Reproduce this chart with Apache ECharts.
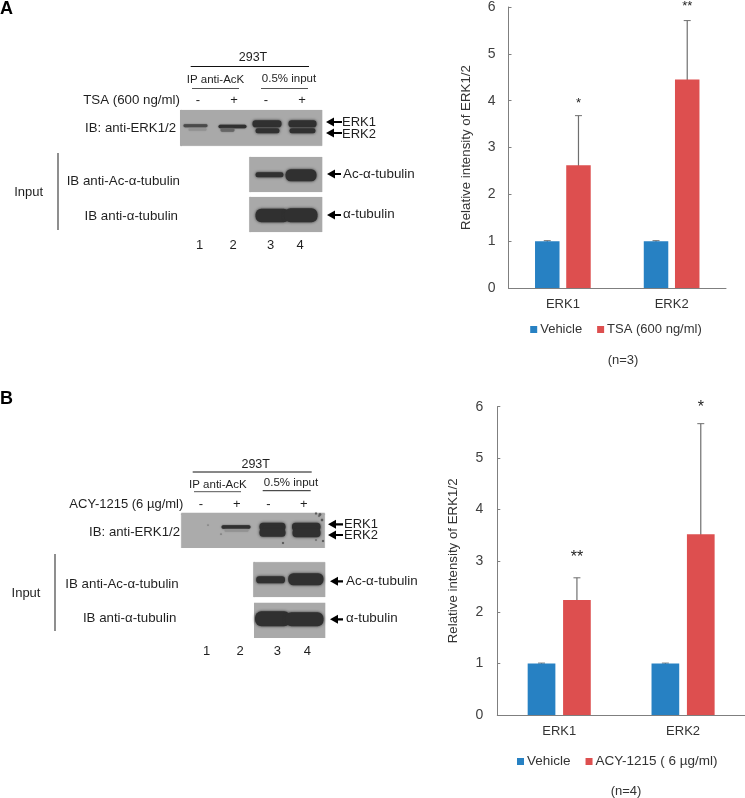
<!DOCTYPE html>
<html><head><meta charset="utf-8">
<style>html,body{margin:0;padding:0;background:#fff}#c{width:745px;height:798px}</style>
<script src="https://cdn.jsdelivr.net/npm/echarts@6/dist/echarts.min.js"></script>
</head><body><div id="c"></div>
<script>
const categories = ['ERK1', 'ERK2'];
const yTicks = [0, 1, 2, 3, 4, 5, 6];
const vehicleA = [1, 1];
const vehicleErrTopA = [1.01, 1.01];
const tsaA = [2.62, 4.45];
const tsaErrTopA = [3.68, 5.71];
const starsA = ['*', '**'];
const vehicleB = [1, 1];
const vehicleErrTopB = [1.01, 1.01];
const acyB = [2.24, 3.52];
const acyErrTopB = [2.67, 5.67];
const starsB = ['**', '*'];
const nameVehicle = 'Vehicle';
const nameTsa = 'TSA (600 ng/ml)';
const nameAcy = 'ACY-1215 ( 6 µg/ml)';

const BLUE = '#2781c3', RED = '#dd4f4f', AXIS = '#7f7f7f', TXT = '#404040', FONT = 'Liberation Sans';
const chart = echarts.init(document.getElementById('c'), null, {renderer: 'canvas'});

function errorSeries(gridIdx, tops, side, barW, gap, stars, starOffsets, starSize) {
  return {
    type: 'custom', xAxisIndex: gridIdx, yAxisIndex: gridIdx, silent: true, z: 1,
    data: tops.map((t, i) => [i, t]),
    encode: {x: 0, y: 1},
    renderItem(params, api) {
      const i = api.value(0), top = api.coord([i, api.value(1)]), base = api.coord([i, 0]);
      const x = top[0] + side * (barW + gap) / 2;
      const children = [
        {type: 'line', shape: {x1: x, y1: top[1], x2: x, y2: base[1]}, style: {stroke: '#6f6f6f', lineWidth: 1.2}},
        {type: 'line', shape: {x1: x - 3.5, y1: top[1], x2: x + 3.5, y2: top[1]}, style: {stroke: '#6f6f6f', lineWidth: 1}}
      ];
      if (stars) children.push({type: 'text', style: {x, y: top[1] - starOffsets[i], text: stars[i], align: 'center', verticalAlign: 'middle', fill: '#222', font: starSize + 'px "Liberation Sans"'}});
      return {type: 'group', children};
    }
  };
}

function bar(name, data, color, gridIdx, barW, gap) {
  return {name, type: 'bar', data, xAxisIndex: gridIdx, yAxisIndex: gridIdx, barWidth: barW, barGap: (gap / barW * 100) + '%',
    itemStyle: {color}, z: 2};
}

const g = [];
function t(text, x, y, size, align, opts) {
  g.push({type: 'text', silent: true, x, y, style: Object.assign({text, align: align || 'left', verticalAlign: 'middle', fill: '#1f1f1f', font: (size || 13) + 'px "Liberation Sans"'}, opts || {})});
}
function ln(x1, y1, x2, y2, color, w) {
  g.push({type: 'line', silent: true, shape: {x1, y1, x2, y2}, style: {stroke: color || '#111', lineWidth: w || 1}});
}
function blotBg(x1, y1, x2, y2, color) {
  g.push({type: 'rect', silent: true, shape: {x: x1, y: y1, width: x2 - x1, height: y2 - y1}, style: {fill: color || '#a9a9a9', shadowBlur: 1, shadowColor: color || '#a9a9a9'}});
}
function band(x1, y1, x2, y2, color, blur) {
  const c = color || '#303030';
  g.push({type: 'rect', silent: true, shape: {x: x1 + 0.5, y: y1 + 0.25, width: x2 - x1 - 1, height: y2 - y1 - 0.5, r: (y2 - y1) / 2.4},
    style: {fill: c, shadowBlur: blur === undefined ? 3 : blur, shadowColor: c}});
}
function speck(x, y, r) {
  g.push({type: 'circle', silent: true, shape: {cx: x, cy: y, r}, style: {fill: '#5a5a5a', shadowBlur: 1, shadowColor: '#5a5a5a'}});
}
function arrow(x1, x2, y) {
  g.push({type: 'polygon', silent: true, shape: {points: [[x1, y], [x1 + 8, y - 4.5], [x1 + 8, y - 1.1], [x2, y - 1.1], [x2, y + 1.1], [x1 + 8, y + 1.1], [x1 + 8, y + 4.5]]}, style: {fill: '#000'}});
}

// Panel A
t('A', 0, 9, 18, 'left', {font: 'bold 18px "Liberation Sans"', fill: '#000'});
t('293T', 253, 58, 12.5, 'center');
ln(190.7, 66.5, 309, 66.5);
t('IP anti-AcK', 215.5, 80, 11.5, 'center');
ln(192, 88.5, 239, 88.5, '#555');
t('0.5% input', 289, 79, 11.5, 'center');
ln(261, 88.5, 308, 88.5, '#555');
t('TSA (600 ng/ml)', 180, 100, 13.3, 'right');
[['-', 198], ['+', 234], ['-', 266], ['+', 302]].forEach(s => t(s[0], s[1], 100, 13, 'center'));
blotBg(180, 110, 322.3, 145.7);
band(183, 124, 208, 127.5, '#4a4a4a', 1.5);
band(188, 128, 207, 131, '#929292', 1.5);
band(218, 124.5, 247, 128.5, '#303030', 1.5);
band(220, 128, 235, 132, '#656565', 1.5);
band(252, 120, 282, 127.5);
band(255, 128, 280, 133.5);
band(288, 120, 317, 127.5);
band(289, 128, 316, 133.5);
t('IB: anti-ERK1/2', 176, 128.7, 13.2, 'right');
arrow(326, 342, 122); arrow(326, 342, 133);
t('ERK1', 342, 122, 13); t('ERK2', 342, 134, 13);
ln(58, 153, 58, 230, '#444', 1.2);
t('Input', 28.7, 192.7, 13, 'center');
t('IB anti-Ac-α-tubulin', 180, 181, 13.3, 'right');
t('IB anti-α-tubulin', 178, 216, 13.3, 'right');
blotBg(249.3, 157, 322.3, 192);
band(255, 172, 284, 177.5);
band(285, 169, 317, 181.5);
blotBg(249.3, 197, 322.3, 232);
band(255, 208.5, 290, 222.5);
band(284, 208, 318, 222.5);
arrow(327, 341, 174); arrow(327, 341, 215);
t('Ac-α-tubulin', 343, 174, 13.4); t('α-tubulin', 343, 214, 13.4);
[['1', 199.5], ['2', 233], ['3', 270.7], ['4', 300]].forEach(s => t(s[0], s[1], 245, 13, 'center'));
t('(n=3)', 623, 360, 13, 'center', {fill: '#333'});

// Panel B
t('B', 0, 399.5, 18, 'left', {font: 'bold 18px "Liberation Sans"', fill: '#000'});
t('293T', 255.7, 464.7, 12.5, 'center');
ln(192.7, 472, 311.7, 472);
t('IP anti-AcK', 217.8, 484.7, 11.5, 'center');
ln(194, 491.7, 241, 491.7, '#555');
t('0.5% input', 291, 482.7, 11.5, 'center');
ln(262.7, 490.7, 310.7, 490.7, '#222');
t('ACY-1215 (6 µg/ml)', 183.3, 504.3, 13, 'right');
[['-', 201], ['+', 236.7], ['-', 268.3], ['+', 303.7]].forEach(s => t(s[0], s[1], 504, 13, 'center'));
blotBg(181.3, 512.7, 324.7, 548, '#ababab');
band(221, 525, 251, 529, '#303030', 1.5);
band(224, 529, 249, 532, '#929292', 1.5);
band(259, 522.5, 286, 531);
band(259, 528.5, 286, 537);
band(291.5, 522.5, 321, 531);
band(292, 528.5, 321, 537.5);
[[316, 513.5, 1], [320, 514.5, 1.2], [322, 520, 1.2], [319, 516, .8], [283, 543, 1], [323, 541, 1], [221, 534, .6], [208, 525, .5], [316, 540, .7]].forEach(s => speck(s[0], s[1], s[2]));
t('IB: anti-ERK1/2', 180, 532.7, 13.2, 'right');
arrow(328, 343, 524.3); arrow(328, 343, 535);
t('ERK1', 344, 524, 13); t('ERK2', 344, 535.5, 13);
ln(55, 554, 55, 631, '#444', 1.2);
t('Input', 26, 593, 13, 'center');
t('IB anti-Ac-α-tubulin', 178.7, 584, 13.3, 'right');
t('IB anti-α-tubulin', 176.3, 618.7, 13.3, 'right');
blotBg(253.3, 562.3, 325.3, 597);
band(255.7, 576, 285.5, 583.5);
band(287.7, 573, 324, 585.5);
blotBg(254, 602.7, 325.3, 638);
band(254.5, 611, 291, 626.5);
band(285, 612, 324, 626.5);
arrow(330, 343, 581.3); arrow(330, 343, 619.3);
t('Ac-α-tubulin', 346, 581, 13.4); t('α-tubulin', 346, 618, 13.4);
[['1', 206.7], ['2', 240], ['3', 277.3], ['4', 307.3]].forEach(s => t(s[0], s[1], 651, 13, 'center'));
t('(n=4)', 626, 791.5, 13, 'center', {fill: '#333'});

function xAxis(gridIndex) {
  return {type: 'category', gridIndex, data: categories, axisTick: {show: false},
    axisLine: {lineStyle: {color: AXIS, width: 1}},
    axisLabel: {color: '#333', fontSize: 13, fontFamily: FONT, margin: 10}};
}
function yAxis(gridIndex, margin, nameGap) {
  return {type: 'value', gridIndex, min: yTicks[0], max: yTicks[yTicks.length - 1], interval: yTicks[1] - yTicks[0],
    name: 'Relative intensity of ERK1/2', nameLocation: 'middle', nameGap, nameRotate: 90,
    nameTextStyle: {color: '#333', fontSize: 13.3, fontFamily: FONT},
    splitLine: {show: false},
    axisLine: {show: true, lineStyle: {color: AXIS, width: 1}},
    axisTick: {show: true, inside: true, length: 3, lineStyle: {color: AXIS}},
    axisLabel: {color: TXT, fontSize: 14, fontFamily: FONT, margin}};
}

const widthA = 24.5, gapA = 6.7, widthB = 27.7, gapB = 7.7;
chart.setOption({
  animation: false,
  backgroundColor: '#fff',
  grid: [
    {left: 508.5, top: 5, width: 217.5, height: 283},
    {left: 497.3, top: 406.7, width: 247.7, height: 308.3}
  ],
  xAxis: [xAxis(0), xAxis(1)],
  yAxis: [yAxis(0, 13, 36), yAxis(1, 14, 37)],
  legend: [
    {data: [nameVehicle, nameTsa], left: 530.2, top: 323, padding: 0, itemWidth: 7, itemHeight: 7, itemGap: 15, icon: 'rect',
      textStyle: {fontSize: 13, color: '#333', fontFamily: FONT, padding: [0, 0, 0, -2]}, selectedMode: false},
    {data: [nameVehicle, nameAcy], left: 517, top: 754.5, padding: 0, itemWidth: 7, itemHeight: 7, itemGap: 15, icon: 'rect',
      textStyle: {fontSize: 13.5, color: '#333', fontFamily: FONT, padding: [0, 0, 0, -2]}, selectedMode: false}
  ],
  series: [
    bar(nameVehicle, vehicleA, BLUE, 0, widthA, gapA),
    bar(nameTsa, tsaA, RED, 0, widthA, gapA),
    errorSeries(0, vehicleErrTopA, -1, widthA, gapA),
    errorSeries(0, tsaErrTopA, 1, widthA, gapA, starsA, [12, 14], 13),
    bar(nameVehicle, vehicleB, BLUE, 1, widthB, gapB),
    bar(nameAcy, acyB, RED, 1, widthB, gapB),
    errorSeries(1, vehicleErrTopB, -1, widthB, gapB),
    errorSeries(1, acyErrTopB, 1, widthB, gapB, starsB, [20, 16], 16)
  ],
  graphic: {elements: g}
});
</script></body></html>
